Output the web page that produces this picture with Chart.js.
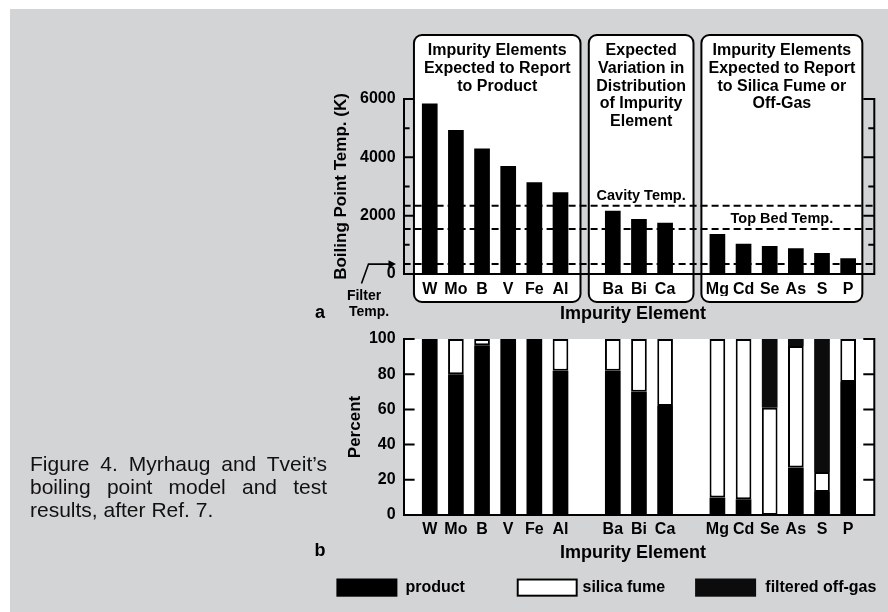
<!DOCTYPE html>
<html><head><meta charset="utf-8">
<script src="https://cdn.jsdelivr.net/npm/chart.js@4"></script>
<style>
html,body{margin:0;padding:0;background:#fff;}
#wrap{position:relative;width:888px;height:612px;overflow:hidden;}
#bg{position:absolute;left:10px;top:9px;right:0;bottom:0;background:#d3d4d6;}
#ca{position:absolute;left:0;top:0;width:888px;height:330px;}
#cb{position:absolute;left:0;top:320px;width:888px;height:292px;}
#cap{position:absolute;left:30px;top:452px;width:297px;font:21px/23px "Liberation Sans",Arial,sans-serif;color:#111;text-align:justify;}
</style></head><body>
<div id="wrap"><div id="bg"></div>
<canvas id="ca" width="888" height="330"></canvas>
<canvas id="cb" width="888" height="292"></canvas>
<div id="cap">Figure 4. Myrhaug and Tveit’s boiling point model and test results, after Ref. 7.</div>
</div>
<script>
// ---------- data ----------
const categories = ['', 'W','Mo','B','V','Fe','Al', '', 'Ba','Bi','Ca', '', 'Mg','Cd','Se','As','S','P', ''];
const boilingPointK = [null, 5850,4940,4300,3700,3150,2800, null, 2170,1890,1760, null, 1370,1040,960,880,720,540, null];
const cavityTempK = 2340;
const topBedTempK = 1540;
const filterTempK = 340;
const yTicksA = [0, 2000, 4000, 6000];

const productPct     = [null, 100,80,96.5,100,100,82, null, 82,70,62, null, 10,9,null,27,13,75.5, null];
const silicaFumePct  = [null, null,20,3.5,null,null,18, null, 18,30,38, null, 90,91,61,69,11.5,24.5, null];
const offGasPct      = [null, null,null,null,null,null,null, null, null,null,null, null, null,null,39,4,75.5,null, null];
const yTicksB = [0, 20, 40, 60, 80, 100];

const groupMembers = [['W','Mo','B','V','Fe','Al'], ['Ba','Bi','Ca'], ['Mg','Cd','Se','As','S','P']];
const groupTitles = [
  ['Impurity Elements','Expected to Report','to Product'],
  ['Expected','Variation in','Distribution','of Impurity','Element'],
  ['Impurity Elements','Expected to Report','to Silica Fume or','Off-Gas']
];
const seriesNames = ['product', 'silica fume', 'filtered off-gas'];

// ---------- style ----------
const FONT = '"Liberation Sans", Arial, Helvetica, sans-serif';
const bold = px => `bold ${px}px ${FONT}`;
Chart.defaults.font.family = FONT;
Chart.defaults.color = '#000';
const OFFGAS_COLOR = '#0c0c0c';

function inwardTicks(chart, yScale, majors, majorLen, minorLen) {
  const {ctx, chartArea:{left, right}} = chart;
  ctx.save();
  ctx.strokeStyle = '#000'; ctx.lineWidth = 2;
  yScale.ticks.forEach(t => {
    const y = yScale.getPixelForValue(t.value);
    const len = majors.includes(t.value) ? majorLen : minorLen;
    ctx.beginPath();
    ctx.moveTo(left, y); ctx.lineTo(left + len, y);
    ctx.moveTo(right, y); ctx.lineTo(right - len, y);
    ctx.stroke();
  });
  ctx.beginPath();
  ctx.moveTo(right, yScale.getPixelForValue(yScale.max) - 1);
  ctx.lineTo(right, yScale.getPixelForValue(yScale.min) + 1);
  ctx.stroke();
  ctx.restore();
}
function roundRect(ctx, x, y, w, h, r) {
  ctx.beginPath();
  ctx.moveTo(x + r, y);
  ctx.lineTo(x + w - r, y); ctx.arcTo(x + w, y, x + w, y + r, r);
  ctx.lineTo(x + w, y + h - r); ctx.arcTo(x + w, y + h, x + w - r, y + h, r);
  ctx.lineTo(x + r, y + h); ctx.arcTo(x, y + h, x, y + h - r, r);
  ctx.lineTo(x, y + r); ctx.arcTo(x, y, x + r, y, r);
  ctx.closePath();
}
const boxPads = [[15.8, 20], [24, 28.4], [16, 14.2]];
function boxRects(chart) {
  const xs = chart.scales.x, ca = chart.chartArea;
  return groupMembers.map((g, i) => {
    const l = xs.getPixelForValue(categories.indexOf(g[0])) - boxPads[i][0];
    const r = xs.getPixelForValue(categories.indexOf(g[g.length - 1])) + boxPads[i][1];
    return {l, r, t: ca.top - 64, b: ca.bottom + 28};
  });
}

const panelAPlugin = {
  id: 'panelA',
  beforeDraw(chart) {
    const ctx = chart.ctx;
    inwardTicks(chart, chart.scales.y, yTicksA, 11, 6);
    ctx.save();
    boxRects(chart).forEach(b => {
      roundRect(ctx, b.l, b.t, b.r - b.l, b.b - b.t, 8);
      ctx.fillStyle = '#fff'; ctx.fill();
      ctx.lineWidth = 2; ctx.strokeStyle = '#000'; ctx.stroke();
    });
    ctx.restore();
  },
  afterDraw(chart) {
    const ctx = chart.ctx, ys = chart.scales.y, ca = chart.chartArea;
    const rects = boxRects(chart);
    ctx.save();
    ctx.fillStyle = '#000';
    ctx.textAlign = 'center'; ctx.textBaseline = 'middle';
    ctx.font = bold(16);
    rects.forEach((b, i) => {
      const cx = (b.l + b.r) / 2;
      groupTitles[i].forEach((line, k) => ctx.fillText(line, cx, ca.top - 48.5 + k * 17.8));
    });
    ctx.font = bold(14.5);
    ctx.fillText('Cavity Temp.', (rects[1].l + rects[1].r) / 2, ys.getPixelForValue(cavityTempK) - 10);
    ctx.fillText('Top Bed Temp.', (rects[2].l + rects[2].r) / 2, ys.getPixelForValue(topBedTempK) - 10);
    // filter label + arrow
    ctx.font = bold(14);
    ctx.fillText('Filter', 364, 296);
    ctx.fillText('Temp.', 369, 312);
    const fy = ys.getPixelForValue(filterTempK);
    ctx.strokeStyle = '#000'; ctx.lineWidth = 1.6;
    ctx.beginPath(); ctx.moveTo(361.5, 283.5); ctx.lineTo(368.5, fy); ctx.lineTo(390, fy); ctx.stroke();
    ctx.beginPath(); ctx.moveTo(396, fy); ctx.lineTo(388.5, fy - 3.8); ctx.lineTo(388.5, fy + 3.8); ctx.closePath(); ctx.fill();
    // axis title and panel letter
    ctx.font = bold(18);
    ctx.fillText('Impurity Element', 633, 314);
    ctx.fillText('a', 320, 313);
    ctx.restore();
  }
};

const panelBPlugin = {
  id: 'panelB',
  beforeDraw(chart) {
    const ctx = chart.ctx, ca = chart.chartArea;
    ctx.save(); ctx.fillStyle = '#fff';
    ctx.fillRect(ca.left, ca.top, ca.right - ca.left, ca.bottom - ca.top);
    ctx.restore();
    inwardTicks(chart, chart.scales.y, yTicksB, 11, 6);
  },
  afterDraw(chart) {
    const ctx = chart.ctx;
    ctx.save();
    ctx.fillStyle = '#000'; ctx.textAlign = 'center'; ctx.textBaseline = 'middle';
    ctx.font = bold(18);
    ctx.fillText('Impurity Element', 633, 233);
    ctx.fillText('b', 320, 231);
    // legend
    const sw = [336.4, 516.7, 695.1], tx = [405.4, 582.5, 765.3];
    ctx.font = bold(16); ctx.textAlign = 'left';
    chart.data.datasets.forEach((ds, i) => {
      ctx.fillStyle = ds.backgroundColor;
      ctx.fillRect(sw[i], 258.5, 61, 18.2);
      if (ds.borderWidth) { ctx.strokeStyle = '#000'; ctx.lineWidth = 2; ctx.strokeRect(sw[i] + 1, 259.5, 59, 16.2); }
      ctx.fillStyle = '#000';
      ctx.fillText(ds.label, tx[i], 268);
    });
    ctx.restore();
  }
};

const tickFont = {size: 16, weight: 'bold'};
const titleFont = {size: 17, weight: 'bold'};

new Chart(document.getElementById('ca'), {
  type: 'bar',
  data: {
    labels: categories,
    datasets: [
      {type: 'bar', label: 'Boiling point', data: boilingPointK, backgroundColor: '#000', barPercentage: 0.6, categoryPercentage: 1, order: 2},
      ...[cavityTempK, topBedTempK, filterTempK].map(v => ({
        type: 'line', data: categories.map(() => v), borderColor: '#000', borderWidth: 2,
        borderDash: [7, 4], pointRadius: 0, fill: false, order: 1
      }))
    ]
  },
  options: {
    responsive: false, devicePixelRatio: 1, animation: false,
    layout: {padding: {left: 300, right: 13.7, top: 99, bottom: 330 - 274 - 22}},
    plugins: {legend: {display: false}, tooltip: {enabled: false}},
    scales: {
      x: {type: 'category', offset: false, grid: {display: false, drawTicks: false},
          border: {display: true, color: '#000', width: 2},
          ticks: {font: tickFont, padding: 6, autoSkip: false, maxRotation: 0},
          afterFit(s) { s.height = 22; }},
      y: {min: 0, max: 6000, grid: {display: false, drawTicks: false},
          border: {display: true, color: '#000', width: 2},
          ticks: {stepSize: 1000, font: tickFont, padding: 8, callback: v => yTicksA.includes(v) ? String(v) : ''},
          title: {display: true, text: 'Boiling Point Temp. (K)', font: titleFont, padding: {top: 31.6, bottom: 0}},
          afterFit(s) { s.width = 103.6; }}
    }
  },
  plugins: [panelAPlugin]
});

new Chart(document.getElementById('cb'), {
  type: 'bar',
  data: {
    labels: categories,
    datasets: [
      {label: seriesNames[0], data: productPct, backgroundColor: '#000', borderWidth: 0},
      {label: seriesNames[1], data: silicaFumePct, backgroundColor: '#fff', borderColor: '#000', borderWidth: 2, borderSkipped: false},
      {label: seriesNames[2], data: offGasPct, backgroundColor: OFFGAS_COLOR, borderWidth: 0}
    ]
  },
  options: {
    responsive: false, devicePixelRatio: 1, animation: false,
    datasets: {bar: {barPercentage: 0.6, categoryPercentage: 1}},
    layout: {padding: {left: 300, right: 13.7, top: 19, bottom: 292 - 195 - 22}},
    plugins: {legend: {display: false}, tooltip: {enabled: false}},
    scales: {
      x: {type: 'category', stacked: true, offset: false, grid: {display: false, drawTicks: false},
          border: {display: true, color: '#000', width: 2},
          ticks: {font: tickFont, padding: 5, autoSkip: false, maxRotation: 0},
          afterFit(s) { s.height = 22; }},
      y: {stacked: true, min: 0, max: 100, grid: {display: false, drawTicks: false},
          border: {display: true, color: '#000', width: 2},
          ticks: {stepSize: 10, font: tickFont, padding: 8, callback: v => yTicksB.includes(v) ? String(v) : ''},
          title: {display: true, text: 'Percent', font: titleFont, padding: {top: 44.8, bottom: 0}},
          afterFit(s) { s.width = 103.6; }}
    }
  },
  plugins: [panelBPlugin]
});
</script>
</body></html>
